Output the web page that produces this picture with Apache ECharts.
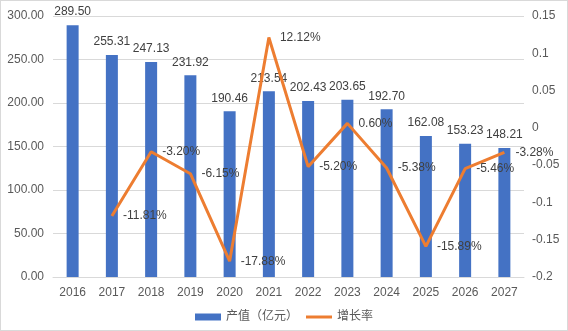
<!DOCTYPE html>
<html><head><meta charset="utf-8">
<script src="https://cdn.jsdelivr.net/npm/echarts@6/dist/echarts.min.js"></script>
<style>html,body{margin:0;padding:0;background:#fff}#c{width:568px;height:331px;box-sizing:border-box;border:1px solid #d9d9d9}</style>
</head><body><div id="c"></div>
<script>
const years = ['2016','2017','2018','2019','2020','2021','2022','2023','2024','2025','2026','2027'];
const output = [289.50,255.31,247.13,231.92,190.46,213.54,202.43,203.65,192.70,162.08,153.23,148.21];
const growth = [null,-0.1181,-0.0320,-0.0615,-0.1788,0.1212,-0.0520,0.0060,-0.0538,-0.1589,-0.0546,-0.0328];
const seriesNames = ['产值（亿元）','增长率'];

const font = '"Liberation Sans","Noto Sans CJK SC",sans-serif';
const chart = echarts.init(document.getElementById('c'));
chart.setOption({
  animation:false,
  textStyle:{fontFamily:font},
  grid:{left:52,right:43,top:15,bottom:53,containLabel:false},
  legend:{bottom:2,left:'center',itemGap:8,itemWidth:26,itemHeight:7,
    textStyle:{color:'#595959',fontSize:12,fontFamily:font},
    data:[{name:seriesNames[0],icon:'rect'},{name:seriesNames[1],icon:'path://M0,0H26V3H0Z'}]},
  xAxis:{type:'category',data:years,
    axisLine:{lineStyle:{color:'#d9d9d9'}},axisTick:{show:false},
    axisLabel:{color:'#595959',fontSize:12,margin:10}},
  yAxis:[
    {type:'value',min:0,max:300,interval:50,
     axisLabel:{color:'#595959',fontSize:12,margin:9,formatter:v=>v.toFixed(2)},
     splitLine:{lineStyle:{color:'#d9d9d9'}},axisLine:{show:false},axisTick:{show:false}},
    {type:'value',min:-0.2,max:0.15,interval:0.05,
     axisLabel:{color:'#595959',fontSize:12,margin:8,formatter:v=>String(parseFloat(v.toFixed(2)))},
     splitLine:{show:false},axisLine:{show:false},axisTick:{show:false}}
  ],
  series:[
    {name:seriesNames[0],type:'bar',data:output,barWidth:12,
     itemStyle:{color:'#4472C4'},
     label:{show:true,position:'top',distance:7,color:'#404040',fontSize:12,formatter:p=>p.value.toFixed(2)}},
    {name:seriesNames[1],type:'line',yAxisIndex:1,data:growth,showSymbol:true,symbol:'circle',symbolSize:0.1,
     lineStyle:{color:'#ED7D31',width:3},itemStyle:{color:'#ED7D31'},
     label:{show:true,position:'right',distance:11,color:'#404040',fontSize:12,
       formatter:p=>(p.value*100).toFixed(2)+'%'}}
  ]
});
</script></body></html>
